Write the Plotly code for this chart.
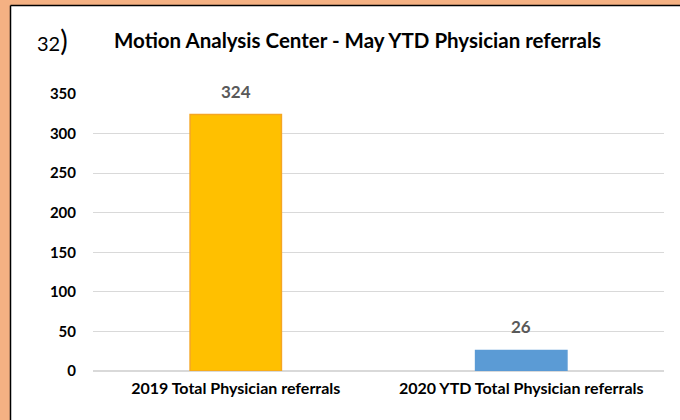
import plotly.graph_objects as go

categories = ["2019 Total Physician referrals", "2020 YTD Total Physician referrals"]
referrals = [324, 26]
bar_colors = ["#FFC000", "#5B9BD5"]
bar_lines = ["#F5A623", "#5B9BD5"]
y_ticks = [0, 50, 100, 150, 200, 250, 300, 350]

FONT = "Lato, 'Open Sans', sans-serif"

# plot area in pixels: x 93..664, y 94..371
L, R, T, B = 93, 664, 94, 371
W, H = R - L, B - T


def px_x(p):
    return (p - L) / W


def px_y(p):
    return (B - p) / H


fig = go.Figure(
    go.Bar(
        x=categories,
        y=referrals,
        marker=dict(color=bar_colors, line=dict(color=bar_lines, width=1.5)),
        width=0.32,
        hoverinfo="x+y",
    )
)

# value labels above the bars
for cat, val in zip(categories, referrals):
    fig.add_annotation(
        x=cat, y=val, text=f"<b>{val}</b>", showarrow=False,
        yanchor="bottom", yshift=11,
        font=dict(family=FONT, size=17, color="#595959"),
    )

# chart number and title
fig.add_annotation(
    x=px_x(35), y=px_y(40), xref="paper", yref="paper",
    text="32<span style='font-size:28px'>)</span>",
    showarrow=False, xanchor="left", yanchor="middle",
    font=dict(family=FONT, size=20, color="black"),
)
fig.add_annotation(
    text="<b>Motion Analysis Center - May YTD Physician referrals</b>",
    showarrow=False, xref="paper", yref="paper",
    x=px_x(357), y=px_y(40), xanchor="center", yanchor="middle",
    font=dict(family=FONT, size=20.5, color="black"),
)

# white card on the salmon page, only its top and left edges are visible
fig.add_shape(
    type="rect", xref="paper", yref="paper", layer="below",
    x0=px_x(10.5), x1=px_x(740), y0=px_y(480), y1=px_y(5.5),
    fillcolor="white", line=dict(width=0),
)
fig.add_shape(
    type="line", xref="paper", yref="paper", layer="below",
    x0=px_x(10.5), x1=px_x(740), y0=px_y(5.5), y1=px_y(5.5),
    line=dict(color="black", width=1.5),
)
fig.add_shape(
    type="line", xref="paper", yref="paper", layer="below",
    x0=px_x(10.5), x1=px_x(10.5), y0=px_y(5.5), y1=px_y(480),
    line=dict(color="black", width=1.5),
)

fig.update_layout(
    width=680,
    height=420,
    margin=dict(l=L, r=680 - R, t=T, b=420 - B, autoexpand=False),
    paper_bgcolor="#F4B183",
    plot_bgcolor="white",
    showlegend=False,
    font=dict(family=FONT, color="black"),
    xaxis=dict(
        showgrid=False, showline=False, ticks="",
        tickfont=dict(size=16, family=FONT, weight="bold"),
        ticklabelstandoff=6,
    ),
    yaxis=dict(
        range=[0, 350], tickvals=y_ticks, showgrid=True, gridcolor="#D9D9D9",
        gridwidth=1.2, zeroline=True, zerolinecolor="#D9D9D9", zerolinewidth=1.5,
        tickfont=dict(size=15, family=FONT, weight="bold"),
        ticklabelstandoff=16, showline=False, ticks="",
    ),
)

fig.write_html(
    "out.html",
    config={"displayModeBar": False},
    post_script="document.body.style.margin='0';document.body.style.overflow='hidden';",
)
